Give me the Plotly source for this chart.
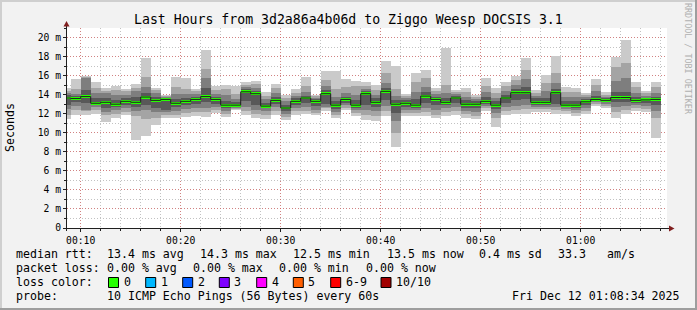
import plotly.graph_objects as go
from datetime import datetime, timedelta

# ---------------- data ----------------
# 10 sorted ping RTTs (ms) per 1-minute step, 00:08 .. 01:07 (bar start)
p01 = [11.4, 11.9, 11.9, 12.0, 11.1, 11.5, 11.9, 9.2, 9.7, 10.8,
       11.5, 11.5, 11.7, 11.8, 11.7, 12.1, 11.7, 12.35, 11.9, 11.5,
       11.4, 11.9, 11.3, 11.9, 12.0, 11.85, 12.3, 11.5, 12.4, 11.75,
       11.3, 11.2, 11.8, 8.5, 11.75, 11.75, 11.75, 11.5, 11.8, 11.9,
       11.6, 11.4, 12.3, 10.6, 11.9, 12.0, 12.0, 12.2, 12.2, 12.0,
       12.0, 11.75, 12.0, 12.8, 12.6, 11.5, 12.0, 12.3, 12.2, 9.5]
p02 = [11.9, 12.4, 12.3, 12.4, 11.9, 12.0, 12.2, 11.8, 11.4, 11.6,
       11.9, 11.9, 12.1, 12.2, 12.2, 12.4, 12.0, 12.5, 12.3, 12.0,
       11.9, 12.3, 11.7, 12.3, 12.3, 12.1, 12.6, 11.9, 12.6, 12.1,
       11.9, 11.8, 12.3, 10.0, 12.1, 12.1, 12.2, 11.9, 12.2, 12.3,
       12.0, 11.8, 12.6, 11.6, 12.3, 12.4, 12.5, 12.5, 12.5, 12.4,
       12.3, 12.1, 12.3, 13.0, 12.8, 12.2, 12.4, 12.6, 12.5, 11.6]
p03 = [12.5, 12.8, 12.4, 12.7, 12.2, 12.4, 12.6, 12.3, 12.4, 12.2,
       12.2, 12.3, 12.5, 12.6, 12.6, 12.7, 12.3, 12.6, 12.7, 12.4,
       12.3, 12.7, 12.0, 12.6, 12.7, 12.4, 12.7, 12.2, 12.9, 12.4,
       12.4, 12.3, 12.8, 11.2, 12.4, 12.4, 12.6, 12.4, 12.6, 12.7,
       12.3, 12.2, 12.8, 12.1, 12.7, 12.8, 12.9, 12.7, 12.7, 12.7,
       12.5, 12.4, 12.6, 13.2, 13.0, 12.7, 12.8, 12.9, 12.8, 12.3]
p04 = [12.9, 13.2, 13.1, 12.9, 12.6, 12.7, 12.9, 12.7, 12.9, 12.6,
       12.4, 12.7, 12.9, 13.0, 13.2, 13.0, 12.6, 12.7, 13.3, 12.9,
       12.6, 13.0, 12.3, 12.9, 13.1, 12.8, 13.0, 12.5, 13.1, 12.6,
       12.9, 12.7, 13.4, 12.1, 12.7, 12.6, 13.1, 12.9, 12.9, 13.1,
       12.6, 12.6, 13.0, 12.5, 13.1, 13.4, 13.5, 12.9, 12.9, 13.0,
       12.7, 12.6, 12.9, 13.3, 13.2, 13.2, 13.2, 13.1, 13.1, 12.9]
p05 = [13.5, 13.5, 13.7, 13.0, 13.1, 12.9, 13.2, 13.1, 13.6, 13.3,
       13.4, 13.0, 13.2, 13.4, 13.7, 13.4, 12.8, 12.8, 14.2, 14.0,
       12.7, 13.3, 12.5, 13.2, 13.6, 13.2, 14.0, 12.8, 13.4, 12.8,
       14.0, 13.1, 14.3, 12.9, 13.0, 12.8, 13.7, 13.4, 13.1, 13.6,
       12.9, 12.9, 13.2, 12.8, 13.6, 14.1, 14.1, 13.1, 13.1, 14.1,
       12.8, 12.8, 13.2, 13.4, 13.35, 13.6, 13.6, 13.3, 13.4, 13.4]
p06 = [13.8, 13.7, 13.9, 13.2, 13.3, 13.1, 13.4, 13.3, 13.9, 13.5,
       13.6, 13.2, 13.4, 13.6, 13.9, 13.6, 13.0, 13.0, 14.4, 14.2,
       12.9, 13.5, 12.7, 13.4, 13.7, 13.4, 14.2, 13.0, 13.6, 13.0,
       14.2, 13.3, 14.4, 13.1, 13.2, 13.0, 14.0, 13.6, 13.3, 13.7,
       13.1, 13.1, 13.4, 13.0, 13.7, 14.3, 14.3, 13.3, 13.3, 14.3,
       13.0, 13.0, 13.3, 13.6, 13.45, 13.8, 13.8, 13.5, 13.5, 13.6]
p07 = [14.0, 13.9, 14.5, 13.6, 13.7, 13.4, 13.6, 13.8, 14.2, 13.8,
       13.7, 13.5, 13.7, 13.8, 14.7, 13.8, 13.3, 13.2, 14.6, 14.4,
       13.1, 13.8, 12.9, 13.6, 13.9, 13.5, 14.5, 13.3, 13.8, 13.4,
       14.4, 13.6, 14.7, 13.4, 13.4, 13.5, 14.3, 13.8, 13.7, 13.9,
       13.4, 13.3, 13.8, 13.3, 14.0, 14.6, 14.8, 13.6, 13.7, 14.6,
       13.3, 13.3, 13.5, 13.9, 13.6, 14.3, 14.3, 13.8, 13.7, 13.8]
p08 = [14.2, 14.1, 15.7, 14.2, 14.2, 14.0, 14.0, 14.4, 14.8, 14.2,
       13.8, 14.1, 14.1, 14.1, 15.7, 14.1, 14.0, 13.5, 14.8, 14.7,
       13.5, 14.2, 13.3, 13.9, 14.3, 13.7, 14.9, 13.8, 14.2, 14.0,
       14.6, 14.0, 15.2, 13.9, 13.6, 14.3, 14.8, 14.1, 14.2, 14.1,
       13.8, 13.5, 14.3, 13.7, 14.4, 15.0, 15.6, 13.9, 14.4, 15.2,
       13.8, 13.8, 13.8, 14.4, 13.8, 15.4, 15.7, 14.2, 13.9, 14.2]
p09 = [14.4, 14.6, 15.9, 14.7, 14.4, 14.5, 14.4, 14.7, 15.9, 14.5,
       13.9, 14.8, 14.6, 14.4, 16.7, 14.5, 14.6, 14.1, 15.0, 15.1,
       13.9, 14.7, 13.7, 14.2, 14.9, 13.9, 15.5, 14.6, 14.8, 14.9,
       14.9, 14.5, 16.3, 14.6, 13.9, 15.3, 15.7, 14.4, 15.0, 14.3,
       14.3, 13.8, 14.9, 14.2, 14.9, 15.5, 16.6, 14.2, 15.2, 16.3,
       14.3, 14.3, 14.0, 15.0, 14.0, 16.9, 17.3, 14.8, 14.2, 14.8]
p10 = [14.75, 15.6, 16.0, 15.3, 14.7, 14.9, 14.6, 15.1, 17.8, 14.7,
       14.0, 15.9, 15.7, 14.6, 18.7, 14.9, 15.0, 14.9, 15.3, 15.4,
       14.3, 15.1, 14.0, 14.6, 15.9, 14.0, 16.5, 16.5, 15.6, 15.4,
       15.3, 15.05, 17.5, 17.0, 14.1, 16.25, 16.6, 14.7, 18.9, 14.45,
       14.7, 14.0, 15.7, 14.7, 15.3, 16.0, 17.8, 14.5, 16.1, 18.1,
       14.8, 14.7, 14.2, 15.6, 14.3, 18.0, 19.7, 15.3, 14.4, 15.3]
median = [13.65, 13.6, 13.8, 13.1, 13.2, 13.0, 13.3, 13.2, 13.75, 13.4,
          13.5, 13.1, 13.3, 13.5, 13.8, 13.5, 12.9, 12.9, 14.3, 14.1,
          12.8, 13.4, 12.6, 13.3, 13.65, 13.3, 14.1, 12.9, 13.5, 12.9,
          14.1, 13.2, 14.35, 13.0, 13.1, 12.9, 13.85, 13.5, 13.2, 13.65,
          13.0, 13.0, 13.3, 12.9, 13.65, 14.2, 14.2, 13.2, 13.2, 14.2,
          12.9, 12.9, 13.25, 13.5, 13.4, 13.7, 13.7, 13.4, 13.45, 13.5]

first_step = datetime(2025, 12, 12, 0, 8, 0)
step = timedelta(minutes=1)
x_ticks = ["00:10", "00:20", "00:30", "00:40", "00:50", "01:00"]
y_tickvals = [0, 2, 4, 6, 8, 10, 12, 14, 16, 18, 20]
y_ticktext = ["0", "2 m", "4 m", "6 m", "8 m", "10 m", "12 m", "14 m", "16 m", "18 m", "20 m"]

title = "Last Hours from 3d2a86a4b06d to Ziggo Weesp DOCSIS 3.1"
stats_rtt = [("median rtt:", 16), ("13.4 ms avg", 107.3), ("14.3 ms max", 200),
             ("12.5 ms min", 293.3), ("13.5 ms now", 386.7), ("0.4 ms sd", 479.3),
             ("33.3", 557.7), ("am/s", 607.3)]
stats_loss = [("packet loss:", 16), ("0.00 % avg", 107.3), ("0.00 % max", 193.3),
              ("0.00 % min", 279.3), ("0.00 % now", 366)]
loss_labels = ["0", "1", "2", "3", "4", "5", "6-9", "10/10"]
loss_colors = ["#26ff00", "#00b8ff", "#0059ff", "#7e00ff", "#ff00ff", "#ff5e00", "#ff0000", "#a10000"]
loss_box_x = [108.5, 145.7, 182.7, 219.3, 256.7, 293.3, 330.7, 381.0]
probe_text = "10 ICMP Echo Pings (56 Bytes) every 60s"
stamp_text = "Fri Dec 12 01:08:34 2025"

# ---------------- geometry ----------------
W, H = 697, 310
L, R, T, B = 67, 30, 28, 82
PW, PH = W - L - R, H - T - B


def fx(p):
    return (p - L) / PW


def fy(p):
    return (H - B - p) / PH


FONT = "DejaVu Sans Mono"
n = len(median)
starts = [first_step + k * step for k in range(n)]
centers = [s + step / 2 for s in starts]

fig = go.Figure()
shades = ["#cacaca", "#a4a4a4", "#7e7e7e", "#585858", "#323232"]
pairs = [(p01, p10), (p02, p09), (p03, p08), (p04, p07), (p05, p06)]
for (lo, hi), col in zip(pairs, shades):
    fig.add_trace(go.Bar(x=centers, base=lo, y=[h - l for l, h in zip(lo, hi)],
                         width=60000, marker=dict(color=col, line=dict(width=0)),
                         hoverinfo="skip"))

# thin median step line
fig.add_trace(go.Scatter(x=starts + [starts[-1] + step], y=median + [median[-1]],
                         mode="lines", line=dict(color="#202020", width=1, shape="hv"),
                         hoverinfo="skip"))
# loss-coloured median band
band = 0.31
fig.add_trace(go.Bar(x=centers, base=[m - band / 2 for m in median], y=[band] * n,
                     width=60000, marker=dict(color=loss_colors[0], line=dict(width=0)),
                     hoverinfo="skip"))

x0 = datetime(2025, 12, 12, 0, 10) - timedelta(seconds=(80.7 - L) * 6)
x1 = x0 + timedelta(seconds=PW * 6)

MGRID = "rgba(222,79,79,0.55)"
GRID = "rgba(143,143,143,0.55)"
fig.update_layout(
    width=W, height=H, margin=dict(l=L, r=R, t=T, b=B, pad=0),
    paper_bgcolor="#f2f2f2", plot_bgcolor="#ffffff",
    showlegend=False, barmode="overlay", bargap=0,
    font=dict(family=FONT, color="#000000"),
    xaxis=dict(type="date", range=[x0, x1],
               tickmode="array",
               tickvals=[datetime(2025, 12, 12, int(t[:2]), int(t[3:])) for t in x_ticks],
               ticktext=x_ticks,
               showgrid=True, gridcolor=MGRID, griddash="1px,2px", gridwidth=1,
               ticks="outside", ticklen=3, tickcolor="#1f1f1f", tickwidth=1,
               tickfont=dict(family=FONT, size=9.7, color="#000000"),
               minor=dict(dtick=120000, tick0="2025-12-12 00:00:00", showgrid=True,
                          gridcolor=GRID, griddash="1px,2px",
                          ticks="outside", ticklen=2, tickcolor="#1f1f1f"),
               zeroline=False, showline=False, fixedrange=True),
    yaxis=dict(range=[0, 21], tickmode="array", tickvals=y_tickvals, ticktext=y_ticktext,
               showgrid=True, gridcolor=MGRID, griddash="1px,2px", gridwidth=1,
               ticks="outside", ticklen=3, tickcolor="#1f1f1f", tickwidth=1,
               tickfont=dict(family=FONT, size=9.7, color="#000000"),
               minor=dict(dtick=1, tick0=0, showgrid=True,
                          gridcolor=GRID, griddash="1px,2px",
                          ticks="outside", ticklen=2, tickcolor="#1f1f1f"),
               zeroline=False, showline=False, fixedrange=True),
)

shapes = []
# 3D frame
shapes.append(dict(type="line", xref="paper", yref="paper", x0=fx(0), x1=fx(W), y0=fy(1), y1=fy(1),
                   line=dict(color="#cfcfcf", width=2)))
shapes.append(dict(type="line", xref="paper", yref="paper", x0=fx(1), x1=fx(1), y0=fy(0), y1=fy(H),
                   line=dict(color="#cfcfcf", width=2)))
shapes.append(dict(type="line", xref="paper", yref="paper", x0=fx(0), x1=fx(W), y0=fy(H - 1), y1=fy(H - 1),
                   line=dict(color="#9e9e9e", width=2)))
shapes.append(dict(type="line", xref="paper", yref="paper", x0=fx(W - 1), x1=fx(W - 1), y0=fy(0), y1=fy(H),
                   line=dict(color="#9e9e9e", width=2)))
# axes
shapes.append(dict(type="line", xref="paper", yref="paper", x0=fx(63), x1=fx(670), y0=fy(228.5), y1=fy(228.5),
                   line=dict(color="#1f1f1f", width=1)))
shapes.append(dict(type="line", xref="paper", yref="paper", x0=fx(66.5), x1=fx(66.5), y0=fy(231), y1=fy(25),
                   line=dict(color="#1f1f1f", width=1)))
# arrows
shapes.append(dict(type="path", xref="paper", yref="paper",
                   path=f"M {fx(63.5)} {fy(26.5)} L {fx(69.5)} {fy(26.5)} L {fx(66.5)} {fy(21)} Z",
                   fillcolor="#801f1f", line=dict(width=0)))
shapes.append(dict(type="path", xref="paper", yref="paper",
                   path=f"M {fx(669)} {fy(225.5)} L {fx(669)} {fy(231.5)} L {fx(674.5)} {fy(228.5)} Z",
                   fillcolor="#801f1f", line=dict(width=0)))
# loss colour boxes
for bx, col in zip(loss_box_x, loss_colors):
    shapes.append(dict(type="rect", xref="paper", yref="paper",
                       x0=fx(bx), x1=fx(bx + 10), y0=fy(277.5), y1=fy(287.5),
                       fillcolor=col, line=dict(color="#000000", width=1)))
fig.update_layout(shapes=shapes)

ann = []


def text(s, x, y, size=11.6, anchor="left", color="#000000", angle=0, yanchor="middle"):
    ann.append(dict(text=s, x=fx(x), y=fy(y), xref="paper", yref="paper", showarrow=False,
                    xanchor=anchor, yanchor=yanchor, textangle=angle, borderpad=0, borderwidth=0,
                    font=dict(family=FONT, size=size, color=color)))


text(title, W / 2, 19, size=13.2, anchor="center")
text("Seconds", 10, 128, size=11.6, anchor="center", angle=-90)
text("RRDTOOL / TOBI OETIKER", 688, 59, size=8.4, anchor="center", angle=90, color="#b0b0b0")
for s, x in stats_rtt:
    text(s, x, 254.3)
for s, x in stats_loss:
    text(s, x, 268.3)
text("loss color:", 16, 282.3)
for bx, lab in zip(loss_box_x, loss_labels):
    text(lab, bx + 15, 282.3)
text("probe:", 16, 296)
text(probe_text, 107.3, 296)
text(stamp_text, 680, 296, anchor="right")
fig.update_layout(annotations=ann)

fig.write_html("out.html", config={"displayModeBar": False})
